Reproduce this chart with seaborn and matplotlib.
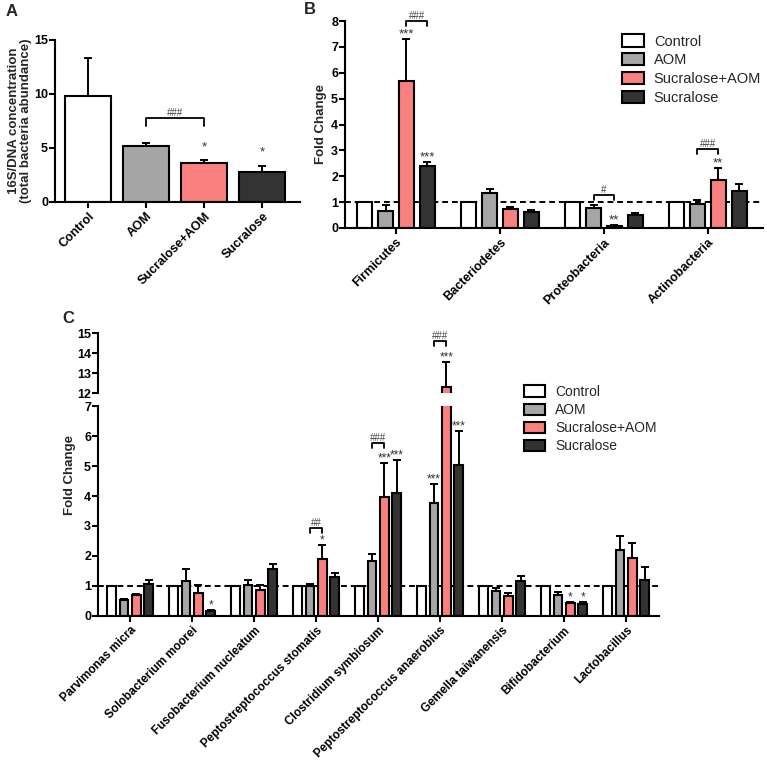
import numpy as np
import pandas as pd
import seaborn as sns
import matplotlib.pyplot as plt

groups = ["Control", "AOM", "Sucralose+AOM", "Sucralose"]
palette = ["#ffffff", "#a6a6a6", "#fa8080", "#333333"]

# panel A: total bacteria abundance
a_mean = [9.85, 5.22, 3.64, 2.80]
a_sem = [3.45, 0.21, 0.25, 0.56]

# panel B: phyla
phyla = ["Firmicutes", "Bacteriodetes", "Proteobacteria", "Actinobacteria"]
b_ctrl = [1, 1, 1, 1]
b_aom = [0.66, 1.37, 0.76, 0.91]
b_aom_sem = [0.23, 0.15, 0.13, 0.19]
b_sa = [5.68, 0.75, 0.09, 1.87]
b_sa_sem = [1.61, 0.06, 0.03, 0.45]
b_s = [2.38, 0.61, 0.49, 1.43]
b_s_sem = [0.17, 0.07, 0.10, 0.27]

# panel C: species
species = ["Parvimonas micra", "Solobacterium moorei", "Fusobacterium nucleatum",
           "Peptostreptococcus stomatis", "Clostridium symbiosum",
           "Peptostreptococcus anaerobius", "Gemella taiwanensis",
           "Bifidobacterium", "Lactobacillus"]
c_ctrl = [1] * 9
c_aom = [0.52, 1.16, 1.02, 1.00, 1.82, 3.76, 0.82, 0.71, 2.21]
c_aom_sem = [0.06, 0.41, 0.18, 0.08, 0.26, 0.63, 0.10, 0.09, 0.47]
c_sa = [0.69, 0.76, 0.87, 1.89, 3.98, 12.32, 0.67, 0.42, 1.94]
c_sa_sem = [0.05, 0.27, 0.15, 0.48, 1.13, 1.25, 0.11, 0.06, 0.48]
c_s = [1.07, 0.16, 1.58, 1.31, 4.09, 5.03, 1.16, 0.41, 1.21]
c_s_sem = [0.12, 0.04, 0.14, 0.11, 1.10, 1.14, 0.17, 0.07, 0.43]

# significance marks: (category, group, text) and brackets (category, g1, g2, y, text)
a_stars = [(0, 2, "*"), (0, 3, "*")]
a_brackets = [(0, 1, 2, 7.8, "###")]
b_stars = [(0, 2, "***"), (0, 3, "***"), (2, 2, "**"), (3, 2, "**")]
b_brackets = [(0, 2, 3, 8.0, "###"), (2, 1, 2, 1.26, "#"), (3, 1, 2, 3.04, "###")]
c_stars = [(1, 3, "*"), (3, 2, "*"), (4, 2, "***"), (4, 3, "***"),
           (5, 1, "***"), (5, 3, "***"), (7, 2, "*"), (7, 3, "*")]
c_brackets = [(3, 1, 2, 2.92, "##"), (4, 1, 2, 5.78, "###")]
c_top_stars = [(5, 2, "***")]
c_top_brackets = [(5, 1, 2, 14.6, "###")]

sns.set_style("ticks")
plt.rcParams["font.family"] = ["Liberation Sans", "DejaVu Sans"]
plt.rcParams["font.weight"] = "bold"
plt.rcParams["axes.linewidth"] = 1.5
plt.rcParams["xtick.major.width"] = 1.5
plt.rcParams["ytick.major.width"] = 1.5
plt.rcParams["xtick.major.size"] = 4
plt.rcParams["ytick.major.size"] = 4
plt.rcParams["xtick.major.pad"] = 2
plt.rcParams["ytick.major.pad"] = 1
plt.rcParams["xtick.color"] = "black"
plt.rcParams["ytick.color"] = "black"
plt.rcParams["axes.edgecolor"] = "black"

W, H = 767, 770
fig = plt.figure(figsize=(W / 100, H / 100), dpi=100)


def px_axes(left, right, top, bottom):
    return fig.add_axes([left / W, 1 - bottom / H, (right - left) / W, (bottom - top) / H])


def long_table(cats, cols):
    rows = []
    for g, vals in zip(groups, cols):
        for c, v in zip(cats, vals):
            rows.append((c, g, v))
    return pd.DataFrame(rows, columns=["cat", "group", "value"])


def add_errors(ax, sems):
    # sems: one list per hue level (None = no error bar)
    for cont, sem in zip(ax.containers, sems):
        if sem is None:
            continue
        xs = [p.get_x() + p.get_width() / 2 for p in cont.patches]
        ys = [p.get_height() for p in cont.patches]
        ax.errorbar(xs, ys, yerr=[np.zeros(len(sem)), sem], fmt="none",
                    ecolor="black", elinewidth=1.4, capsize=3, capthick=1.4, zorder=1)


def bar_top(ax, sems, c, g):
    p = ax.containers[g].patches[c]
    s = sems[g][c] if sems[g] is not None else 0
    return p.get_x() + p.get_width() / 2, p.get_height() + s


def add_stars(ax, sems, stars, size=9.5, lift=0):
    for c, g, txt in stars:
        x, y = bar_top(ax, sems, c, g)
        ax.annotate(txt, (x, y), xytext=(0, lift - 1), textcoords="offset points",
                    ha="center", va="bottom", fontsize=size, fontweight="normal",
                    color="#333333", annotation_clip=False)


def add_brackets(ax, brackets, leg_px=5):
    for c, g1, g2, y, txt in brackets:
        p1 = ax.containers[g1].patches[c]
        p2 = ax.containers[g2].patches[c]
        xa = p1.get_x() + p1.get_width() / 2
        xb = p2.get_x() + p2.get_width() / 2
        yd = ax.transData.transform((0, y))[1]
        yl = ax.transData.inverted().transform((0, yd - leg_px))[1]
        ax.plot([xa, xa, xb, xb], [yl, y, y, yl], color="black", lw=1.3,
                clip_on=False, zorder=5)
        ax.text((xa + xb) / 2, y, txt, ha="center", va="bottom", fontsize=7,
                fontweight="normal", color="#444444")


def style_ticks(ax, size=9):
    for lab in ax.get_xticklabels():
        lab.set_rotation(45)
        lab.set_ha("right")
        lab.set_rotation_mode("anchor")
        lab.set_fontsize(size)
        lab.set_fontweight("bold")
    for lab in ax.get_yticklabels():
        lab.set_fontsize(9)
        lab.set_fontweight("bold")


# ---------------- panel A ----------------
axA = px_axes(55, 300, 40, 202)
dfA = pd.DataFrame({"group": groups, "value": a_mean})
sns.barplot(data=dfA, x="group", y="value", hue="group", palette=palette,
            order=groups, hue_order=groups, width=0.8, edgecolor="black",
            linewidth=1.5, saturation=1, errorbar=None, legend=False, ax=axA)
a_sems = [[s] for s in a_sem]
add_errors(axA, a_sems)
axA.set_ylim(0, 15)
axA.set_yticks([0, 5, 10, 15])
axA.set_xlim(-0.57, 3.65)
axA.set_xlabel("")
axA.set_ylabel("16S/DNA concentration\n(total bacteria abundance)", fontsize=9.5,
               fontweight="bold", linespacing=1.05)
axA.yaxis.set_label_coords(-0.094, 0.5)
sns.despine(ax=axA)
style_ticks(axA)
# panel A: one bar per hue container
a_star_list = [(0, g, txt) for _, g, txt in a_stars]
for c, g, txt in a_star_list:
    x, y = bar_top(axA, a_sems, c, g)
    axA.annotate(txt, (x, y), xytext=(0, 5), textcoords="offset points",
                 ha="center", va="bottom", fontsize=9.5, fontweight="normal",
                 color="#333333")
add_brackets(axA, a_brackets, leg_px=8)

# ---------------- panel B ----------------
axB = px_axes(345, 763, 21, 228)
dfB = long_table(phyla, [b_ctrl, b_aom, b_sa, b_s])
sns.barplot(data=dfB, x="cat", y="value", hue="group", palette=palette,
            order=phyla, hue_order=groups, width=0.8, gap=0.28, edgecolor="black",
            linewidth=1.5, saturation=1, errorbar=None, ax=axB)
b_sems = [None, b_aom_sem, b_sa_sem, b_s_sem]
add_errors(axB, b_sems)
axB.set_ylim(0, 8)
axB.set_yticks(range(0, 9))
axB.set_xlim(-0.49, 3.53)
axB.axhline(1, color="black", lw=1.4, ls=(0, (3, 2)), zorder=0.5)
axB.set_xlabel("")
axB.set_ylabel("Fold Change", fontsize=9.5, fontweight="bold", labelpad=3)
sns.despine(ax=axB)
style_ticks(axB)
add_stars(axB, b_sems, b_stars)
add_brackets(axB, b_brackets)
sns.move_legend(axB, "upper left", bbox_to_anchor=(0.662, 0.935), frameon=False,
                title=None, prop={"size": 10.5, "weight": "normal"},
                handlelength=1.5, handleheight=0.9, labelspacing=0.32,
                handletextpad=0.7, borderaxespad=0, borderpad=0)

# ---------------- panel C (broken axis) ----------------
dfC = long_table(species, [c_ctrl, c_aom, c_sa, c_s])
c_sems = [None, c_aom_sem, c_sa_sem, c_s_sem]
axCt = px_axes(98, 659, 333, 393)
axC = px_axes(98, 659, 406, 616)
for ax in (axCt, axC):
    sns.barplot(data=dfC, x="cat", y="value", hue="group", palette=palette,
                order=species, hue_order=groups, width=0.8, gap=0.3,
                edgecolor="black", linewidth=1.5, saturation=1, errorbar=None, ax=ax)
    add_errors(ax, c_sems)
    ax.set_xlim(-0.52, 8.53)
    ax.set_xlabel("")
    ax.set_ylabel("")

axCt.set_ylim(12, 15)
axCt.set_yticks([12, 13, 14, 15])
axCt.get_legend().remove()
sns.despine(ax=axCt, bottom=True)
axCt.tick_params(axis="x", bottom=False, labelbottom=False)
for lab in axCt.get_yticklabels():
    lab.set_fontsize(9)
    lab.set_fontweight("bold")
add_stars(axCt, c_sems, c_top_stars, size=8.5)
add_brackets(axCt, c_top_brackets)

axC.set_ylim(0, 7)
axC.set_yticks(range(0, 8))
axC.axhline(1, color="black", lw=1.4, ls=(0, (3, 2)), zorder=0.5)
sns.despine(ax=axC)
style_ticks(axC, size=8.5)
add_stars(axC, c_sems, c_stars, size=8.5)
add_brackets(axC, c_brackets)
sns.move_legend(axC, "upper left", bbox_to_anchor=(0.76, 1.1), frameon=False,
                title=None, prop={"size": 10, "weight": "normal"},
                handlelength=1.5, handleheight=0.9, labelspacing=0.3,
                handletextpad=0.7, borderaxespad=0, borderpad=0)

fig.text(70 / W, 1 - 475 / H, "Fold Change", rotation=90, ha="center", va="center",
         fontsize=9.5, fontweight="bold")

# panel letters
fig.text(6 / W, 1 - 4 / H, "A", fontsize=12, fontweight="bold", va="top")
fig.text(304 / W, 1 - 2 / H, "B", fontsize=12, fontweight="bold", va="top")
fig.text(62 / W, 1 - 311 / H, "C", fontsize=12, fontweight="bold", va="top")

fig.savefig("out.png", dpi=100, facecolor="white")
